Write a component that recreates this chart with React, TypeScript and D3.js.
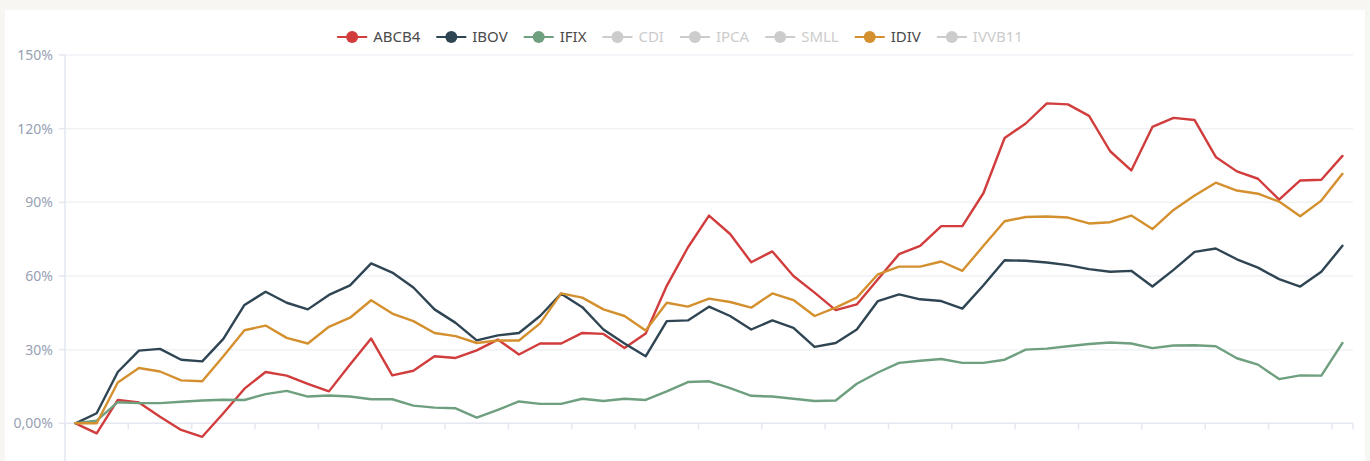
import React from "react";
import * as d3 from "d3";

const seriesNames = ["ABCB4", "IBOV", "IFIX", "CDI", "IPCA", "SMLL", "IDIV", "IVVB11"];
const activeSeries = ["ABCB4", "IBOV", "IFIX", "IDIV"];
const seriesColors = ["#d13c3c", "#2f4554", "#6e9f7e", "#cccccc", "#cccccc", "#cccccc", "#d4902e", "#cccccc"];

const abcb4 = [0, -4.1, 9.5, 8.5, 2.7, -2.7, -5.5, 4.1, 14.1, 20.9, 19.4, 16.1, 13.0, 23.9, 34.5, 19.5, 21.4, 27.3, 26.6, 29.7, 34.1, 28.0, 32.5, 32.5, 36.8, 36.4, 30.7, 36.6, 56.0, 71.6, 84.6, 77.1, 65.6, 70.0, 60.0, 53.2, 46.1, 48.4, 58.7, 68.9, 72.3, 80.3, 80.3, 93.8, 116.2, 122.1, 130.3, 129.9, 125.2, 110.8, 103.0, 120.7, 124.4, 123.5, 108.5, 102.6, 99.6, 91.1, 98.9, 99.2, 108.9];
const ibov = [0, 4.1, 20.9, 29.6, 30.3, 25.9, 25.2, 34.4, 48.2, 53.6, 49.1, 46.4, 52.3, 56.2, 65.1, 61.4, 55.3, 46.4, 40.9, 33.8, 35.8, 36.8, 43.7, 52.8, 47.3, 38.2, 32.5, 27.3, 41.6, 41.9, 47.5, 43.7, 38.2, 41.9, 38.9, 31.1, 32.7, 38.2, 49.8, 52.5, 50.5, 49.8, 46.7, 56.2, 66.4, 66.2, 65.5, 64.4, 62.8, 61.7, 62.1, 55.7, 62.5, 69.8, 71.2, 66.8, 63.4, 58.7, 55.7, 61.7, 72.3];
const ifix = [0, 1.1, 8.6, 8.2, 8.2, 8.8, 9.3, 9.6, 9.5, 11.9, 13.2, 10.9, 11.3, 10.9, 9.8, 9.8, 7.2, 6.4, 6.1, 2.3, 5.5, 8.9, 7.9, 7.9, 10.0, 9.1, 10.0, 9.5, 13.0, 16.8, 17.1, 14.3, 11.2, 10.9, 10.0, 9.1, 9.3, 16.1, 20.7, 24.6, 25.5, 26.2, 24.6, 24.6, 25.9, 30.0, 30.4, 31.4, 32.3, 32.9, 32.5, 30.6, 31.7, 31.8, 31.4, 26.5, 23.9, 18.0, 19.5, 19.4, 32.7];
const idiv = [0, 0, 16.6, 22.5, 21.1, 17.5, 17.1, 27.3, 37.9, 39.8, 34.8, 32.5, 39.3, 43.0, 50.1, 44.7, 41.6, 36.8, 35.5, 32.7, 33.7, 33.7, 40.7, 52.9, 51.2, 46.4, 43.7, 37.8, 49.1, 47.5, 50.8, 49.4, 47.1, 52.9, 50.2, 43.7, 47.1, 51.2, 60.7, 63.8, 63.8, 65.9, 62.1, 72.3, 82.3, 84.0, 84.2, 83.8, 81.4, 81.9, 84.6, 79.1, 86.9, 92.8, 98.0, 94.8, 93.5, 90.3, 84.3, 90.7, 101.6];

const yTicks = [0, 30, 60, 90, 120, 150];
const yTickLabels = ["0,00%", "30%", "60%", "90%", "120%", "150%"];

const categories = d3.range(abcb4.length).map((i) => String(i));
const seriesData: Record<string, number[]> = { ABCB4: abcb4, IBOV: ibov, IFIX: ifix, IDIV: idiv };

const W = 1370;
const H = 461;
const plotLeft = 65;
const plotRight = 1353;
const yTop = 55;
const yZero = 423.3;

const FONT = "'Noto Sans', sans-serif";

function measure(text: string, size: number): number {
  if (typeof document === "undefined") return text.length * size * 0.6;
  const c = document.createElement("canvas");
  const ctx = c.getContext("2d");
  if (!ctx) return text.length * size * 0.6;
  ctx.font = `${size}px 'Noto Sans'`;
  return ctx.measureText(text).width;
}

export default function App() {
  const x = d3.scaleBand<string>().domain(categories).range([plotLeft, plotRight]).padding(0);
  const bw = x.bandwidth();
  const px = (i: number) => (x(categories[i]) as number) + bw / 2;
  const y = d3.scaleLinear().domain([0, 150]).range([yZero, yTop]);

  const line = d3
    .line<number>()
    .x((_, i) => px(i))
    .y((d) => y(d));

  const xTickIdx = d3.range(0, categories.length, 3);
  const xTickPos = xTickIdx.map((i) => x(categories[i]) as number).concat([plotRight]);

  // legend layout
  const legendFont = 15;
  const iconW = 30;
  const textGap = 6;
  const itemGap = 16;
  const widths = seriesNames.map((n) => iconW + textGap + measure(n, legendFont));
  const total = d3.sum(widths) + itemGap * (seriesNames.length - 1);
  const legendCenter = 680;
  let cursor = legendCenter - total / 2;
  const legendItems = seriesNames.map((n, i) => {
    const item = { name: n, x: cursor, color: seriesColors[i], active: activeSeries.includes(n) };
    cursor += widths[i] + itemGap;
    return item;
  });
  const legendY = 37;

  const drawOrder = seriesNames.filter((n) => activeSeries.includes(n));

  return (
    <svg
      width={W}
      height={H}
      style={{ position: "absolute", left: 0, top: 0, display: "block" }}
      fontFamily={FONT}
    >
      <rect x={0} y={0} width={W} height={H} fill="#f7f6f2" />
      <rect x={5} y={10} width={1360} height={H - 10} fill="#ffffff" />

      {/* grid lines */}
      {yTicks.slice(1).map((t) => (
        <line key={"g" + t} x1={plotLeft} x2={plotRight} y1={y(t)} y2={y(t)} stroke="#f0f2f6" strokeWidth={1.5} />
      ))}

      {/* y axis */}
      <line x1={plotLeft} x2={plotLeft} y1={yTop} y2={H} stroke="#e3e7f0" strokeWidth={1.5} />
      {yTicks.map((t, i) => (
        <g key={"yt" + t}>
          <line x1={plotLeft - 6} x2={plotLeft} y1={y(t)} y2={y(t)} stroke="#e3e7f0" strokeWidth={1.5} />
          <text x={53} y={y(t)} dy="0.35em" textAnchor="end" fontSize={14} fill="#98a1b3">
            {yTickLabels[i]}
          </text>
        </g>
      ))}

      {/* x axis */}
      <line x1={plotLeft} x2={plotRight} y1={yZero} y2={yZero} stroke="#e3e7f0" strokeWidth={1.5} />
      {xTickPos.map((p, i) => (
        <line key={"xt" + i} x1={p} x2={p} y1={yZero} y2={yZero + 6} stroke="#e3e7f0" strokeWidth={1.5} />
      ))}

      {/* series */}
      {drawOrder.map((n) => {
        const idx = seriesNames.indexOf(n);
        return (
          <path
            key={n}
            d={line(seriesData[n]) || ""}
            fill="none"
            stroke={seriesColors[idx]}
            strokeWidth={2.4}
            strokeLinejoin="round"
            strokeLinecap="round"
          />
        );
      })}

      {/* legend */}
      {legendItems.map((it) => (
        <g key={"l" + it.name}>
          <line x1={it.x} x2={it.x + iconW} y1={legendY} y2={legendY} stroke={it.color} strokeWidth={2} />
          <circle cx={it.x + iconW / 2} cy={legendY} r={6} fill={it.color} />
          <text
            x={it.x + iconW + textGap}
            y={legendY}
            dy="0.35em"
            fontSize={legendFont}
            fill={it.active ? "#4a4a4a" : "#cccccc"}
          >
            {it.name}
          </text>
        </g>
      ))}
    </svg>
  );
}
